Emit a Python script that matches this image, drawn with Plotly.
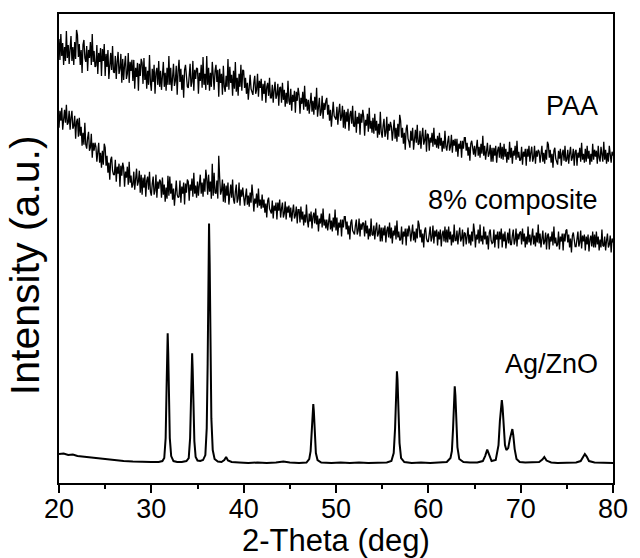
import plotly.graph_objects as go

# Measurement grid for the two amorphous (noisy) patterns: 20..80 deg, 0.1 deg step
grid_start = 20.0
grid_step = 0.1
n_grid = 601

# PAA pattern (arbitrary intensity units); one row per degree
paa_y = [
    445, 424, 450, 428, 441, 419, 437, 423, 453, 426,
    439, 420, 435, 448, 423, 437, 419, 442, 425, 454,
    449, 427, 440, 419, 434, 411, 439, 444, 426, 422,
    438, 413, 434, 426, 442, 419, 450, 422, 433, 417,
    418, 439, 410, 431, 422, 436, 408, 435, 423, 440,
    408, 430, 417, 434, 405, 426, 431, 414, 438, 412,
    411, 428, 405, 422, 432, 410, 415, 430, 401, 425,
    404, 419, 428, 405, 410, 431, 401, 422, 413, 424,
    403, 424, 395, 416, 407, 421, 393, 420, 408, 425,
    421, 400, 426, 404, 417, 395, 413, 399, 429, 402,
    393, 415, 402, 419, 390, 411, 416, 399, 423, 397,
    413, 394, 409, 422, 397, 411, 393, 416, 399, 428,
    399, 416, 393, 410, 420, 398, 403, 418, 389, 413,
    424, 402, 415, 394, 409, 386, 414, 419, 401, 397,
    396, 411, 420, 397, 402, 423, 393, 414, 405, 416,
    415, 390, 411, 403, 419, 396, 427, 399, 410, 394,
    428, 399, 416, 393, 411, 397, 422, 409, 394, 413,
    419, 402, 414, 387, 415, 401, 410, 389, 418, 397,
    392, 408, 397, 425, 394, 417, 401, 409, 388, 413,
    395, 422, 392, 406, 388, 410, 397, 419, 393, 414,
    413, 396, 406, 390, 401, 384, 405, 409, 395, 392,
    389, 401, 408, 390, 394, 410, 387, 403, 396, 405,
    383, 400, 390, 403, 381, 397, 401, 388, 406, 386,
    386, 399, 381, 394, 402, 385, 389, 400, 378, 396,
    397, 381, 401, 384, 394, 377, 391, 380, 403, 383,
    379, 395, 373, 389, 382, 393, 371, 392, 383, 396,
    389, 370, 386, 380, 392, 374, 398, 377, 385, 373,
    384, 370, 381, 391, 372, 383, 369, 387, 374, 396,
    367, 379, 386, 368, 372, 388, 365, 381, 374, 383,
    386, 369, 379, 363, 374, 357, 378, 382, 368, 365,
    364, 377, 359, 372, 380, 363, 367, 378, 356, 374,
    355, 372, 362, 375, 353, 369, 373, 360, 378, 358,
    357, 373, 351, 367, 360, 371, 349, 370, 361, 374,
    367, 348, 364, 358, 370, 352, 376, 355, 363, 351,
    366, 350, 370, 353, 363, 346, 360, 349, 372, 352,
    346, 358, 365, 347, 351, 367, 344, 360, 353, 362,
    357, 343, 354, 364, 345, 356, 342, 360, 347, 369,
    363, 346, 356, 340, 351, 334, 355, 359, 345, 342,
    336, 353, 343, 356, 334, 350, 354, 341, 359, 339,
    340, 353, 335, 348, 356, 339, 343, 354, 332, 350,
    349, 333, 346, 341, 351, 337, 356, 339, 345, 336,
    348, 335, 351, 338, 346, 332, 343, 335, 353, 337,
    333, 342, 348, 333, 337, 349, 331, 344, 338, 345,
    332, 345, 327, 340, 335, 343, 326, 343, 335, 346,
    346, 333, 341, 328, 337, 323, 340, 343, 332, 329,
    338, 327, 336, 344, 328, 337, 326, 340, 330, 348,
    328, 338, 324, 334, 341, 327, 330, 339, 322, 336,
    322, 336, 328, 338, 321, 333, 337, 326, 341, 325,
    337, 324, 340, 327, 335, 321, 332, 324, 342, 326,
    336, 320, 333, 328, 338, 324, 343, 326, 332, 323,
    324, 337, 319, 332, 327, 335, 318, 335, 327, 338,
    322, 331, 337, 322, 326, 338, 320, 333, 327, 334,
    332, 321, 330, 338, 322, 331, 320, 334, 324, 342,
    339, 326, 334, 321, 330, 316, 333, 336, 325, 322,
    319, 333, 325, 335, 318, 330, 334, 323, 338, 322,
    324, 334, 320, 330, 337, 323, 326, 335, 318, 332,
    334, 318, 331, 326, 336, 322, 341, 324, 330, 321,
    335, 322, 338, 325, 333, 319, 330, 322, 340, 324,
    334, 327, 333, 320, 338, 326, 322, 337, 331, 322,
    342, 324, 334, 320, 331, 322, 338, 330, 321, 332,
    328,
]

# 8% composite pattern; one row per degree
comp_y = [
    356, 373, 363, 376, 354, 370, 374, 361, 379, 359,
    361, 373, 354, 366, 373, 355, 358, 368, 345, 362,
    365, 347, 366, 348, 357, 338, 351, 339, 361, 339,
    335, 346, 352, 333, 336, 350, 326, 341, 333, 341,
    337, 322, 332, 341, 321, 331, 316, 333, 319, 340,
    336, 318, 328, 311, 321, 304, 324, 327, 313, 309,
    309, 324, 302, 317, 310, 320, 297, 318, 308, 321,
    316, 297, 312, 306, 317, 299, 322, 301, 308, 296,
    299, 312, 294, 307, 315, 298, 302, 313, 291, 309,
    289, 306, 296, 309, 287, 303, 307, 294, 312, 292,
    288, 300, 307, 289, 293, 309, 286, 302, 295, 304,
    302, 286, 306, 289, 299, 282, 296, 285, 308, 288,
    307, 290, 300, 284, 295, 278, 299, 303, 289, 286,
    287, 303, 281, 297, 290, 301, 279, 300, 291, 304,
    302, 283, 299, 293, 305, 287, 311, 290, 298, 286,
    302, 288, 299, 309, 290, 301, 287, 305, 292, 314,
    305, 289, 309, 292, 302, 285, 320, 288, 311, 291,
    290, 303, 285, 328, 306, 289, 293, 304, 282, 300,
    281, 298, 288, 301, 279, 295, 299, 286, 304, 284,
    280, 292, 299, 281, 285, 301, 278, 294, 287, 296,
    289, 278, 287, 295, 279, 288, 277, 291, 281, 299,
    288, 272, 285, 280, 290, 276, 295, 278, 284, 275,
    289, 276, 284, 271, 280, 266, 283, 286, 275, 272,
    270, 283, 265, 278, 273, 281, 264, 281, 273, 284,
    266, 275, 281, 266, 270, 282, 264, 277, 271, 278,
    266, 276, 262, 272, 279, 265, 268, 277, 260, 274,
    274, 261, 277, 264, 272, 258, 269, 261, 279, 263,
    256, 270, 262, 272, 255, 267, 271, 260, 275, 259,
    268, 252, 265, 260, 270, 256, 275, 258, 264, 255,
    264, 253, 262, 270, 254, 263, 252, 266, 256, 274,
    253, 266, 248, 261, 256, 264, 247, 264, 256, 267,
    267, 254, 262, 249, 258, 244, 261, 264, 253, 250,
    249, 258, 264, 249, 253, 265, 247, 260, 254, 261,
    260, 247, 263, 250, 258, 244, 255, 247, 265, 249,
    248, 258, 244, 254, 261, 247, 250, 259, 242, 256,
    242, 256, 248, 258, 241, 253, 257, 246, 261, 245,
    256, 240, 253, 248, 258, 244, 263, 246, 252, 243,
    244, 257, 239, 252, 247, 255, 238, 255, 247, 258,
    253, 242, 251, 259, 243, 252, 241, 255, 245, 263,
    259, 246, 254, 241, 250, 236, 253, 256, 245, 242,
    242, 251, 257, 242, 246, 258, 240, 253, 247, 254,
    238, 252, 244, 254, 237, 249, 253, 242, 257, 241,
    254, 241, 257, 244, 252, 238, 249, 241, 259, 243,
    243, 253, 239, 249, 256, 242, 245, 254, 237, 251,
    250, 239, 248, 256, 240, 249, 238, 252, 242, 260,
    252, 236, 249, 244, 254, 240, 259, 242, 248, 239,
    257, 244, 252, 239, 248, 234, 251, 254, 243, 240,
    241, 254, 236, 249, 244, 252, 235, 252, 244, 255,
    236, 250, 242, 252, 235, 247, 251, 240, 255, 239,
    239, 248, 254, 239, 243, 255, 237, 250, 244, 251,
    252, 239, 255, 242, 250, 236, 247, 239, 257, 241,
    249, 238, 247, 255, 239, 248, 237, 251, 241, 259,
    240, 250, 236, 246, 253, 239, 242, 251, 234, 248,
    250, 234, 247, 242, 252, 238, 257, 240, 246, 237,
    239, 252, 234, 247, 242, 250, 233, 250, 242, 253,
    254, 241, 249, 236, 245, 231, 248, 251, 240, 237,
    237, 246, 252, 237, 241, 253, 235, 248, 242, 249,
    233, 247, 239, 249, 232, 244, 248, 237, 252, 236,
    249, 236, 252, 239, 247, 233, 244, 236, 254, 238,
    237, 247, 233, 243, 250, 236, 239, 248, 231, 245,
    241,
]

# Ag/ZnO crystalline pattern
agzno_x = [
    20.0, 20.5, 21.0, 21.5, 22.0, 22.5, 23.0, 23.5, 24.0, 24.5, 25.0, 25.5, 26.0, 27.0, 28.0, 29.0,
    30.0, 30.8, 31.2,
    31.4, 31.55, 31.65, 31.72, 31.77, 31.83, 31.9, 32.0, 32.15, 32.4,
    32.8, 33.3, 33.8,
    34.05, 34.2, 34.3, 34.37, 34.42, 34.48, 34.56, 34.66, 34.8, 35.0, 35.3, 35.6,
    35.85, 36.0, 36.1, 36.18, 36.25, 36.32, 36.4, 36.5, 36.65, 36.85, 37.2, 37.6,
    37.9, 38.1, 38.3, 38.7, 39.5, 40.5, 41.5, 42.5, 43.5, 44.3, 45.0, 46.0, 46.8, 47.1,
    47.25, 47.38, 47.48, 47.54, 47.6, 47.7, 47.82, 48.0, 48.4,
    49.5, 50.5, 51.5, 52.5, 53.5, 54.5, 55.5, 56.0,
    56.25, 56.4, 56.5, 56.57, 56.6, 56.66, 56.75, 56.88, 57.05, 57.4,
    58.2, 59.2, 60.2, 61.2, 62.0, 62.4,
    62.55, 62.68, 62.78, 62.86, 62.93, 63.02, 63.15, 63.35, 63.8,
    64.5, 65.3, 65.9, 66.15, 66.38, 66.6, 66.85, 67.3,
    67.6, 67.75, 67.88, 67.96, 68.04, 68.15, 68.3, 68.45,
    68.65, 68.85, 69.0, 69.1, 69.2, 69.35, 69.55, 69.9,
    70.5, 71.3, 72.0, 72.35, 72.56, 72.8, 73.3, 74.0, 75.0, 76.0,
    76.5, 76.8, 76.95, 77.15, 77.4, 78.0, 79.0, 80.0,
]
agzno_y = [
    29, 29.5, 28, 28.5, 27, 26.5, 25.5, 25, 24.5, 24, 23.5, 23, 22.5, 22, 21.5, 21,
    21, 21, 22,
    25, 45, 95, 135, 150, 130, 88, 45, 27, 22,
    21, 21, 22,
    25, 45, 85, 118, 130, 113, 78, 42, 26, 22.5, 22, 23,
    28, 55, 120, 215, 260, 220, 135, 65, 33, 24, 21.5, 21,
    23, 26, 22.5, 21, 20.5, 20, 20.5, 20, 20.5, 21.5, 20.5, 20, 20.5, 24,
    32, 52, 74, 79, 72, 50, 30, 23, 20.5,
    20, 20.5, 20, 20.5, 20, 20, 20.5, 22,
    30, 55, 92, 110, 112, 104, 72, 40, 25, 21,
    20, 20.5, 20, 20.5, 21, 25,
    32, 55, 84, 97, 88, 60, 36, 24, 21,
    20.5, 20.5, 22, 27, 33.5, 27, 22, 23,
    38, 62, 80, 83, 76, 55, 38, 33,
    35, 45, 53, 54, 48, 34, 24, 21,
    20.5, 20.5, 21, 23.5, 26, 22.5, 20.5, 20, 20.5, 20.5,
    22, 27, 29, 26.5, 22, 20.5, 20, 20,
]

labels = ["PAA", "8% composite", "Ag/ZnO"]
label_y = [378, 284, 119]

x_title = "2-Theta (deg)"
y_title = "Intensity (a.u.)"
x_ticks = [20, 30, 40, 50, 60, 70, 80]

grid_x = [grid_start + grid_step * i for i in range(n_grid)]

fig = go.Figure()
fig.add_trace(go.Scatter(x=grid_x, y=paa_y, mode="lines",
                         line=dict(color="#000000", width=1.3), name="PAA"))
fig.add_trace(go.Scatter(x=grid_x, y=comp_y, mode="lines",
                         line=dict(color="#000000", width=1.3), name="8% composite"))
fig.add_trace(go.Scatter(x=agzno_x, y=agzno_y, mode="lines",
                         line=dict(color="#000000", width=2), name="Ag/ZnO"))

font_family = "Liberation Sans, Arial, sans-serif"

for t, yv in zip(labels, label_y):
    fig.add_annotation(x=78.6, y=yv, xref="x", yref="y", text=t, showarrow=False,
                       xanchor="right", yanchor="middle",
                       font=dict(family=font_family, size=27, color="#000"))

fig.add_annotation(xref="paper", yref="paper", x=0.5, y=-0.122, text=x_title,
                   showarrow=False, xanchor="center", yanchor="middle",
                   font=dict(family=font_family, size=31, color="#000"))
fig.add_annotation(xref="paper", yref="paper", x=-0.06, y=0.464, text=y_title,
                   showarrow=False, xanchor="center", yanchor="middle", textangle=-90,
                   font=dict(family=font_family, size=41, color="#000"))

fig.update_layout(
    width=640, height=558,
    margin=dict(l=59, r=21, t=13, b=75),
    paper_bgcolor="white", plot_bgcolor="white",
    showlegend=False,
    font=dict(family=font_family, color="#000"),
)
fig.update_xaxes(range=[20, 80], tickvals=x_ticks, showline=True, mirror=True,
                 linecolor="black", linewidth=2, ticks="outside", ticklen=8,
                 tickwidth=2, tickcolor="black", showgrid=False, zeroline=False,
                 ticklabelstandoff=-7,
                 tickfont=dict(family=font_family, size=27, color="#000"),
                 minor=dict(ticks="outside", ticklen=4, tickwidth=2, dtick=5,
                            tickcolor="black", showgrid=False))
fig.update_yaxes(range=[0, 470], showline=True, mirror=True, linecolor="black",
                 linewidth=2, showticklabels=False, ticks="", showgrid=False,
                 zeroline=False)

fig.write_html("out.html")
